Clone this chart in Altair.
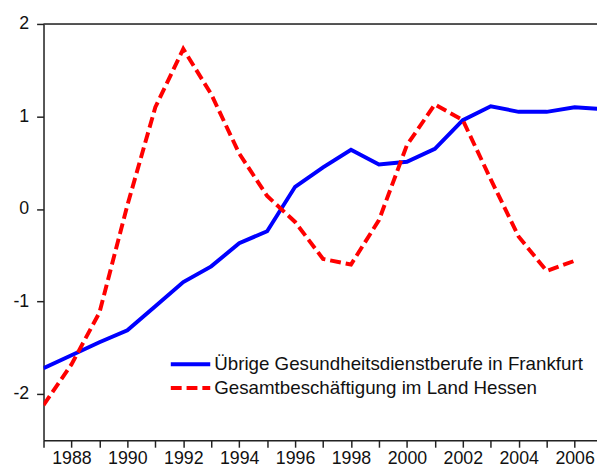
import altair as alt
import pandas as pd

years = list(range(1987, 2008))
series_names = ["Übrige Gesundheitsdienstberufe in Frankfurt",
                "Gesamtbeschäftigung im Land Hessen"]
blue_vals = [-1.72, -1.58, -1.44, -1.31, -1.05, -0.79, -0.62, -0.37, -0.24, 0.24,
             0.45, 0.64, 0.48, 0.51, 0.65, 0.96, 1.11, 1.05, 1.05, 1.10, 1.08]
red_vals = [-2.12, -1.68, -1.12, 0.04, 1.10, 1.73, 1.24, 0.60, 0.14, -0.14,
            -0.54, -0.60, -0.12, 0.69, 1.13, 0.96, 0.32, -0.30, -0.67, -0.56, None]
x_ticks = list(range(1987, 2007))
y_ticks = [-2, -1, 0, 1, 2]

blue_df = pd.DataFrame({"year": years, "value": blue_vals})
red_df = pd.DataFrame({"year": years, "value": red_vals}).dropna()

FONT = "Liberation Sans"
xscale = alt.Scale(domain=[1987, 2006.8], nice=False, zero=False)
yscale = alt.Scale(domain=[-2.5, 2], nice=False, zero=False)

xaxis = alt.Axis(values=x_ticks, title=None, grid=False,
                 labelExpr="datum.value % 2 == 0 ? datum.value : ''",
                 labelFont=FONT, labelFontSize=18, labelColor="#111",
                 tickSize=7, tickColor="#222", tickWidth=1.5,
                 domainColor="#222", domainWidth=1.5, labelPadding=3,
                 labelFlush=False, labelOverlap=False)
yaxis = alt.Axis(values=y_ticks, title=None, grid=False,
                 labelExpr="(datum.value < 0 ? '-' : '') + abs(datum.value)",
                 labelFont=FONT, labelFontSize=18, labelColor="#111",
                 tickSize=7, tickColor="#222", tickWidth=1.5,
                 domainColor="#222", domainWidth=1.5, labelPadding=8)

base_x = alt.X("year:Q", scale=xscale, axis=xaxis)
base_y = alt.Y("value:Q", scale=yscale, axis=yaxis)

blue_line = alt.Chart(blue_df).mark_line(color="#0000FF", strokeWidth=4, clip=True).encode(
    x=base_x, y=base_y)
red_line = alt.Chart(red_df).mark_line(color="#FF0000", strokeWidth=4, strokeDash=[11, 5],
                                       strokeCap="butt", clip=True).encode(
    x=base_x, y=base_y)

top_rule = alt.Chart(pd.DataFrame({"v": [2]})).mark_rule(color="#222", strokeWidth=1.5).encode(
    y=alt.Y("v:Q", scale=yscale, axis=yaxis))

leg_blue_line = alt.Chart(pd.DataFrame({"a": [0]})).mark_rule(color="#0000FF", strokeWidth=4).encode(
    x=alt.value(129), x2=alt.value(169), y=alt.value(345))
leg_red_line = alt.Chart(pd.DataFrame({"a": [0]})).mark_rule(color="#FF0000", strokeWidth=4,
                                                              strokeDash=[11, 5]).encode(
    x=alt.value(129), x2=alt.value(169), y=alt.value(369))
leg_blue_text = alt.Chart(pd.DataFrame({"t": [series_names[0]]})).mark_text(
    align="left", baseline="middle", font=FONT, fontSize=19, color="#111").encode(
    x=alt.value(173), y=alt.value(345), text="t:N")
leg_red_text = alt.Chart(pd.DataFrame({"t": [series_names[1]]})).mark_text(
    align="left", baseline="middle", font=FONT, fontSize=19, color="#111").encode(
    x=alt.value(173), y=alt.value(369), text="t:N")

chart = alt.layer(top_rule, blue_line, red_line,
                  leg_blue_line, leg_red_line, leg_blue_text, leg_red_text).properties(
    width=561, height=422,
    autosize=alt.AutoSizeParams(type="none"),
    padding={"left": 36, "top": 13, "right": 0, "bottom": 31},
).configure_view(stroke=None).configure(background="white")

chart.save("out.html", embed_options={"renderer": "svg", "actions": False})
